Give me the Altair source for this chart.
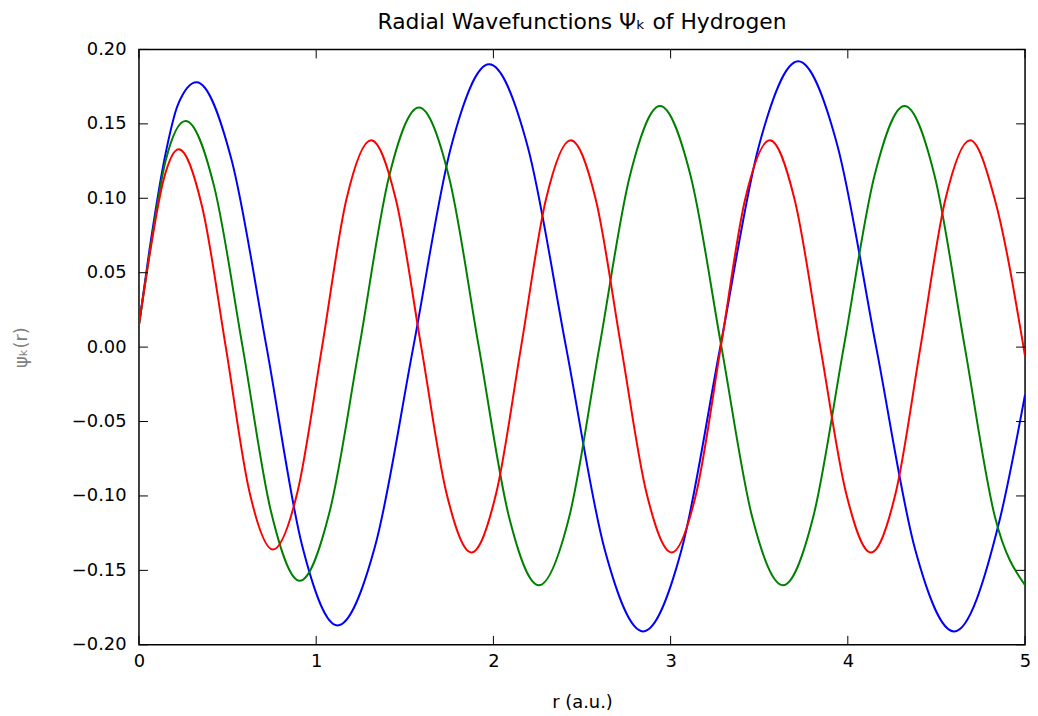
import altair as alt
import pandas as pd

# ---- data ----
blue_r = [0.00, 0.06, 0.15, 0.22, 0.325, 0.522, 0.72, 0.92, 1.12, 1.334, 1.548, 1.762, 1.976,
          2.193, 2.41, 2.628, 2.845, 3.062, 3.28, 3.50, 3.72, 3.94, 4.16, 4.38, 4.60, 4.855, 5.0]
blue_v = [0.015, 0.066, 0.130, 0.163, 0.178, 0.126, 0.0, -0.133, -0.187, -0.133, 0.0, 0.135, 0.190,
          0.135, 0.0, -0.136, -0.191, -0.136, 0.0, 0.136, 0.192, 0.136, 0.0, -0.136, -0.191, -0.117, -0.032]

green_r = [0.00, 0.06, 0.15, 0.263, 0.424, 0.585, 0.746, 0.907, 1.075, 1.243, 1.41, 1.58, 1.75,
           1.918, 2.088, 2.257, 2.428, 2.598, 2.77, 2.94, 3.113, 3.287, 3.46, 3.634, 3.805, 3.977,
           4.15, 4.32, 4.49, 4.66, 4.83, 5.0]
green_v = [0.015, 0.063, 0.125, 0.152, 0.108, 0.0, -0.111, -0.157, -0.111, 0.0, 0.114, 0.161, 0.114,
           0.0, -0.114, -0.160, -0.114, 0.0, 0.115, 0.162, 0.115, 0.0, -0.114, -0.160, -0.114, 0.0,
           0.115, 0.162, 0.115, 0.0, -0.114, -0.160]

red_r = [0.00, 0.06, 0.14, 0.224, 0.357, 0.49, 0.623, 0.756, 0.895, 1.033, 1.17, 1.31, 1.45, 1.593,
         1.735, 1.876, 2.016, 2.156, 2.296, 2.436, 2.578, 2.721, 2.864, 3.006, 3.145, 3.283, 3.42,
         3.56, 3.70, 3.845, 3.99, 4.13, 4.27, 4.41, 4.55, 4.69, 4.83, 5.0]
red_v = [0.015, 0.062, 0.113, 0.133, 0.094, 0.0, -0.097, -0.136, -0.097, 0.0, 0.099, 0.139, 0.099, 0.0,
         -0.098, -0.138, -0.098, 0.0, 0.099, 0.139, 0.099, 0.0, -0.098, -0.138, -0.098, 0.0, 0.099,
         0.139, 0.099, 0.0, -0.098, -0.138, -0.098, 0.0, 0.099, 0.139, 0.099, -0.006]

x_ticks = [0, 1, 2, 3, 4, 5]
y_ticks = [-0.20, -0.15, -0.10, -0.05, 0.00, 0.05, 0.10, 0.15, 0.20]

series = [("blue", blue_r, blue_v, "#0000ff"),
          ("green", green_r, green_v, "#008000"),
          ("red", red_r, red_v, "#ff0000")]

W, H = 893, 600
FONT = "DejaVu Sans"
TICK = 9

xs = alt.Scale(domain=[0, 5], nice=False, zero=False)
ys = alt.Scale(domain=[-0.2, 0.2], nice=False, zero=False)

xaxis = alt.Axis(values=x_ticks, format="d", grid=False, domain=False, ticks=False, tickSize=0,
                 labelFontSize=18, labelPadding=8, labelColor="black", labelFont=FONT,
                 labelFlush=False,
                 title="r (a.u.)", titleFontSize=18, titleFont=FONT, titleFontWeight="normal",
                 titleColor="black", titlePadding=23)
yaxis = alt.Axis(values=y_ticks, format=".2f", grid=False, domain=False, ticks=False, tickSize=0,
                 labelFontSize=18, labelPadding=13, labelColor="black", labelFont=FONT,
                 title="ψₖ(r)", titleFontSize=18, titleFont=FONT, titleFontWeight="normal",
                 titleColor="#808080", titleX=-118, titleY=300, titleBaseline="middle",
                 titleAlign="center", titleAngle=270)

layers = []
for name, rr, vv, col in series:
    df = pd.DataFrame({"r": rr, "v": vv})
    layers.append(
        alt.Chart(df).mark_line(color=col, strokeWidth=2, interpolate="monotone", clip=True)
        .encode(x=alt.X("r:Q", scale=xs, axis=xaxis), y=alt.Y("v:Q", scale=ys, axis=yaxis))
    )

xt = pd.DataFrame({"r": x_ticks})
yt = pd.DataFrame({"v": y_ticks})
tick_style = dict(color="black", strokeWidth=1)
layers.append(alt.Chart(xt).mark_rule(**tick_style).encode(
    x=alt.X("r:Q", scale=xs, axis=xaxis), y=alt.value(H), y2=alt.value(H - TICK)))
layers.append(alt.Chart(xt).mark_rule(**tick_style).encode(
    x=alt.X("r:Q", scale=xs, axis=xaxis), y=alt.value(0), y2=alt.value(TICK)))
layers.append(alt.Chart(yt).mark_rule(**tick_style).encode(
    y=alt.Y("v:Q", scale=ys, axis=yaxis), x=alt.value(0), x2=alt.value(TICK)))
layers.append(alt.Chart(yt).mark_rule(**tick_style).encode(
    y=alt.Y("v:Q", scale=ys, axis=yaxis), x=alt.value(W), x2=alt.value(W - TICK)))

chart = alt.layer(*layers).properties(
    width=W, height=H,
    title=alt.TitleParams("Radial Wavefunctions Ψₖ of Hydrogen", fontSize=22, font=FONT,
                          fontWeight="normal", color="black", offset=7),
    autosize=alt.AutoSizeParams(type="none"),
    padding={"left": 132, "top": 39, "right": 5, "bottom": 68},
).configure(background="white").configure_view(stroke="black", strokeWidth=1.5)

chart.save("out.html", embed_options={"renderer": "svg", "actions": False})
